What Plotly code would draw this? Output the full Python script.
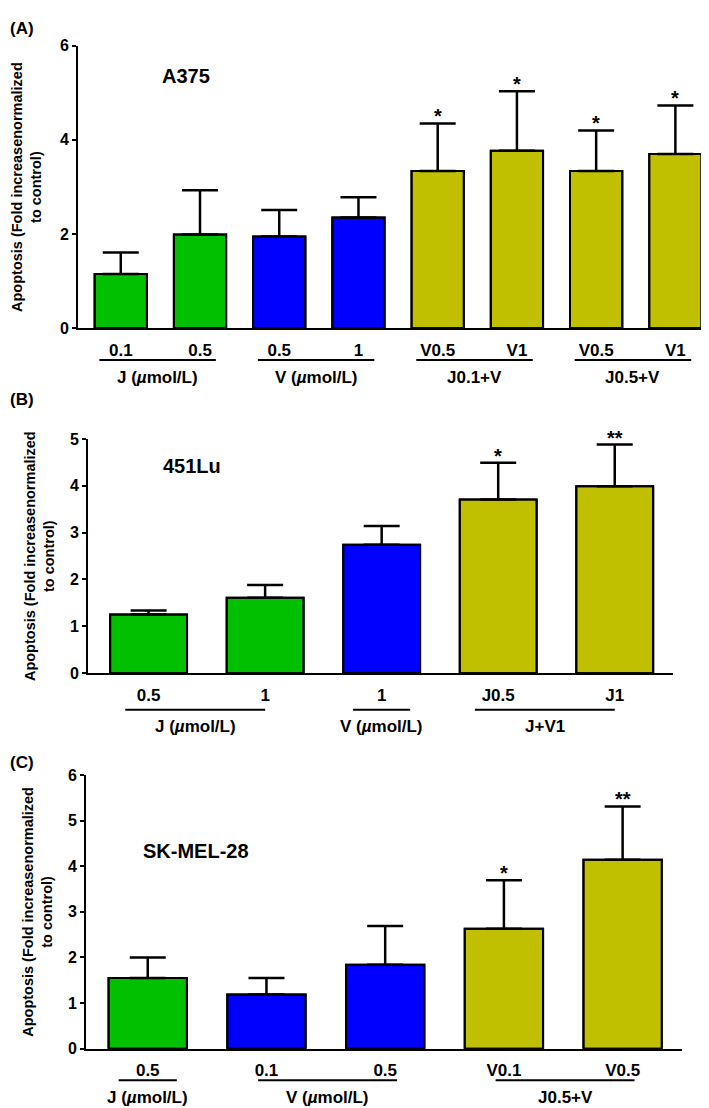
import plotly.graph_objects as go

# --- Data ---
# Panel A : A375
a_labels = ["0.1", "0.5", "0.5", "1", "V0.5", "V1", "V0.5", "V1"]
a_means = [1.15, 1.99, 1.95, 2.35, 3.34, 3.77, 3.34, 3.70]
a_upper = [1.61, 2.93, 2.51, 2.78, 4.35, 5.03, 4.20, 4.73]
a_kind = ["J", "J", "V", "V", "JV", "JV", "JV", "JV"]
a_stars = ["", "", "", "", "*", "*", "*", "*"]
a_group_text = ["J (<i>µ</i>mol/L)", "V (<i>µ</i>mol/L)", "J0.1+V", "J0.5+V"]
a_group_members = [[0, 1], [2, 3], [4, 5], [6, 7]]

# Panel B : 451Lu
b_labels = ["0.5", "1", "1", "J0.5", "J1"]
b_means = [1.25, 1.61, 2.74, 3.71, 3.99]
b_upper = [1.34, 1.88, 3.14, 4.49, 4.88]
b_kind = ["J", "J", "V", "JV", "JV"]
b_stars = ["", "", "", "*", "**"]
b_group_text = ["J (<i>µ</i>mol/L)", "V (<i>µ</i>mol/L)", "J+V1"]
b_group_members = [[0, 1], [2], [3, 4]]

# Panel C : SK-MEL-28
c_labels = ["0.5", "0.1", "0.5", "V0.1", "V0.5"]
c_means = [1.55, 1.19, 1.84, 2.63, 4.14]
c_upper = [2.00, 1.55, 2.69, 3.69, 5.31]
c_kind = ["J", "V", "V", "JV", "JV"]
c_stars = ["", "", "", "*", "**"]
c_group_text = ["J (<i>µ</i>mol/L)", "V (<i>µ</i>mol/L)", "J0.5+V"]
c_group_members = [[0], [1, 2], [3, 4]]

# --- Styling ---
W, H = 709, 1108
M = dict(l=4, r=2, t=4, b=4)
BAR_W = 0.66
kind_colors = {"J": "#00c000", "V": "#0000ff", "JV": "#c0c000"}
sans = "Liberation Sans, Arial"
ytitle = "Apoptosis (Fold increasenormalized<br>to control)"


def px2x(px):
    # page pixel -> paper x (paper = plot area inside margins)
    return (px - M["l"]) / (W - M["l"] - M["r"])


def px2y(py):
    return 1 - (py - M["t"]) / (H - M["t"] - M["b"])


panels = [
    dict(tag="(A)", name="A375", labels=a_labels, means=a_means, upper=a_upper,
         kind=a_kind, stars=a_stars, gtext=a_group_text, gmem=a_group_members,
         left=70, right=707, top=32, bottom=318, xr=[-0.54, 7.5], ymax=6, dtick=2,
         pad=(0.27, 0.2), line_off=32, lab_off=50, tag_y=15, title_x=19,
         name_x=0.49, name_y=5.35),
    dict(tag="(B)", name="451Lu", labels=b_labels, means=b_means, upper=b_upper,
         kind=b_kind, stars=b_stars, gtext=b_group_text, gmem=b_group_members,
         left=80, right=665, top=430, bottom=667, xr=[-0.52, 4.5], ymax=5, dtick=1,
         pad=(0.2, 0.0), line_off=37, lab_off=54, tag_y=390, title_x=31,
         name_x=0.11, name_y=4.43),
    dict(tag="(C)", name="SK-MEL-28", labels=c_labels, means=c_means, upper=c_upper,
         kind=c_kind, stars=c_stars, gtext=c_group_text, gmem=c_group_members,
         left=78, right=674, top=770, bottom=1047, xr=[-0.52, 4.5], ymax=6, dtick=1,
         pad=(0.07, 0.1), line_off=32, lab_off=49, tag_y=757, title_x=30,
         name_x=-0.06, name_y=4.33),
]

fig = go.Figure()
annotations = []
shapes = []
layout_axes = {}

for k, p in enumerate(panels):
    sfx = "" if k == 0 else str(k + 1)
    xa, ya = "x" + sfx, "y" + sfx
    n = len(p["labels"])
    xs = list(range(n))
    d0, d1 = px2x(p["left"]), px2x(p["right"])

    def to_paper(xv, p=p, d0=d0, d1=d1):
        r0, r1 = p["xr"]
        return d0 + (xv - r0) / (r1 - r0) * (d1 - d0)

    fig.add_trace(go.Bar(
        x=xs, y=p["means"], xaxis=xa, yaxis=ya, width=BAR_W,
        marker=dict(color=[kind_colors[c] for c in p["kind"]],
                    line=dict(color="black", width=2)),
        error_y=dict(type="data", symmetric=False,
                     array=[u - m for u, m in zip(p["upper"], p["means"])],
                     arrayminus=[0] * n, color="black", thickness=2.5, width=18),
        showlegend=False,
    ))

    # black outline around each bar (same data, drawn on the bar's axes)
    for i, m in enumerate(p["means"]):
        shapes.append(dict(
            type="rect", xref=xa, yref=ya, x0=i - BAR_W / 2, x1=i + BAR_W / 2,
            y0=0, y1=m, line=dict(color="black", width=2), layer="above"))

    layout_axes["xaxis" + sfx] = dict(
        domain=[d0, d1], anchor=ya, range=p["xr"],
        tickvals=xs, ticktext=p["labels"], ticks="", showgrid=False, zeroline=False,
        showline=True, linecolor="black", linewidth=2, ticklabelstandoff=5,
        tickfont=dict(family=sans, size=17, color="black", weight="bold"),
    )
    layout_axes["yaxis" + sfx] = dict(
        domain=[px2y(p["bottom"]), px2y(p["top"])], anchor=xa,
        range=[0, p["ymax"]], dtick=p["dtick"], ticks="outside", ticklen=4,
        tickwidth=2, tickcolor="black", showgrid=False, zeroline=False,
        showline=True, linecolor="black", linewidth=2,
        tickfont=dict(family=sans, size=16, color="black", weight="bold"),
    )

    # significance stars
    for i, s in enumerate(p["stars"]):
        if s:
            annotations.append(dict(
                x=i, y=p["upper"][i], xref=xa, yref=ya, text=s, showarrow=False,
                yanchor="bottom", yshift=-6,
                font=dict(family=sans, size=20, color="black", weight="bold")))

    # group lines and labels under the axis
    lo, hi = p["pad"]
    line_y = px2y(p["bottom"] + p["line_off"])
    lab_y = px2y(p["bottom"] + p["lab_off"])
    for text, mem in zip(p["gtext"], p["gmem"]):
        if len(mem) == 1:
            x0, x1 = mem[0] - 0.245, mem[0] + 0.245
        else:
            x0, x1 = mem[0] - lo, mem[-1] + hi
        shapes.append(dict(
            type="line", xref="paper", yref="paper",
            x0=to_paper(x0), x1=to_paper(x1), y0=line_y, y1=line_y,
            line=dict(color="black", width=2)))
        annotations.append(dict(
            x=to_paper((x0 + x1) / 2), y=lab_y, xref="paper", yref="paper",
            text=text, showarrow=False, xanchor="center", yanchor="middle",
            font=dict(family=sans, size=17, color="black", weight="bold")))

    # cell line name
    annotations.append(dict(
        x=p["name_x"], y=p["name_y"], xref=xa, yref=ya, text=p["name"],
        showarrow=False, xanchor="left", yanchor="middle",
        font=dict(family=sans, size=20, color="black", weight="bold")))

    # panel tag
    annotations.append(dict(
        x=px2x(0), y=px2y(p["tag_y"]), xref="paper", yref="paper", text=p["tag"],
        showarrow=False, xanchor="left", yanchor="middle",
        font=dict(family=sans, size=17, color="black", weight="bold")))

    # y-axis title
    annotations.append(dict(
        x=px2x(p["title_x"]), y=px2y((p["top"] + p["bottom"]) / 2),
        xref="paper", yref="paper", text=ytitle, textangle=-90, showarrow=False,
        xanchor="center", yanchor="middle",
        font=dict(family=sans, size=14.5, color="black", weight="bold")))

fig.update_layout(
    width=W, height=H, margin=M, plot_bgcolor="white",
    annotations=annotations, shapes=shapes, **layout_axes,
)

fig.write_html("out.html")
